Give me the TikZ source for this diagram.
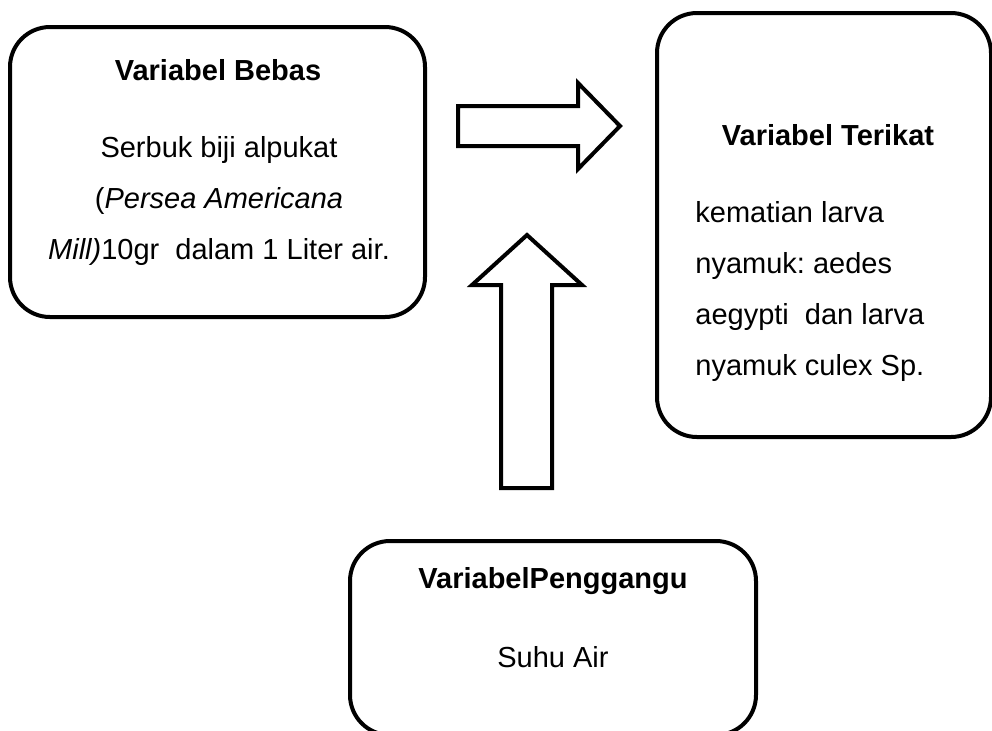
\documentclass[tikz,border=0pt]{standalone}
\usepackage{fontspec}
\setmainfont{Liberation Sans}
\usetikzlibrary{positioning}
\frenchspacing

\tikzset{
  varbox/.style={draw, line width=2pt, rounded corners=20pt, inner sep=0pt},
  boxtitle/.style={font=\fontsize{14.5pt}{25.5pt}\selectfont\bfseries, anchor=base, inner sep=0pt},
  boxtext/.style={font=\fontsize{14.5pt}{25.5pt}\selectfont, anchor=base, inner sep=0pt},
  blockarrow/.style={draw, line width=2pt, fill=white, line join=miter}
}

\begin{document}
\begin{tikzpicture}[x=0.5pt,y=-0.5pt]
  \useasboundingbox (0,0) rectangle (992,730);
  \clip (0,0) rectangle (992,730);

  % Variabel bebas
  \node[varbox, minimum width=207.5pt, minimum height=145pt] (bebas) at (217.5,172) {};
  \node[boxtitle] (bebas title) at (218,80) {Variabel Bebas};
  \node[boxtext, align=center, anchor=north] (bebas text) at (219,136)
    {Serbuk biji alpukat\\(\textit{Persea Americana}\\\textit{Mill)}10gr\ \ dalam 1 Liter air.};

  % Variabel terikat
  \node[varbox, minimum width=167pt, minimum height=212pt] (terikat) at (824,225) {};
  \node[boxtitle] (terikat title) at (828,145) {Variabel Terikat};
  \node[boxtext, align=left, anchor=north west] (terikat text) at (695,201)
    {kematian larva\\nyamuk: aedes\\aegypti\ \ dan larva\\nyamuk culex Sp.};

  % Variabel pengganggu
  \node[varbox, minimum width=203pt, minimum height=97pt] (pengganggu) at (553,638) {};
  \node[boxtitle] (pengganggu title) at (553,588) {VariabelPenggangu};
  \node[boxtext] (pengganggu text) at (553,667) {Suhu Air};

  % block arrows
  \draw[blockarrow] (458,106) -- (578,106) -- (578,83) -- (620,126) -- (578,169)
    -- (578,146) -- (458,146) -- cycle;
  \draw[blockarrow] (501,488) -- (501,285) -- (472,285) -- (527,235) -- (582,285)
    -- (552,285) -- (552,488) -- cycle;
\end{tikzpicture}
\end{document}
